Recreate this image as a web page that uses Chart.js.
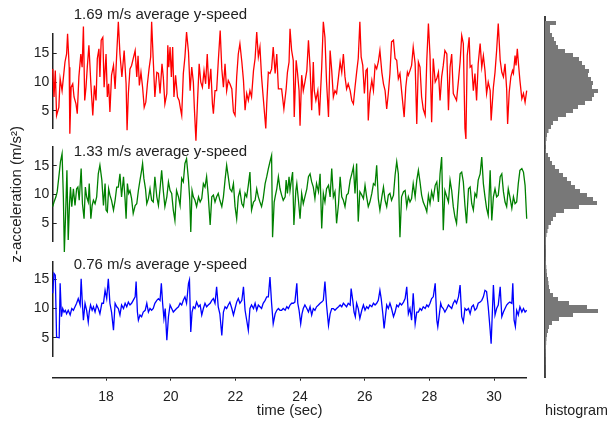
<!DOCTYPE html>
<html>
<head>
<meta charset="utf-8">
<script src="https://cdn.jsdelivr.net/npm/chart.js@4.4.1/dist/chart.umd.min.js"></script>
<style>
    html, body { margin: 0; padding: 0; background: #fff; }
    #wrap { position: relative; width: 608px; height: 424px; }
    #main { position: absolute; left: 0; top: 0; }
    #hist { position: absolute; left: 536px; top: 0; }
</style>
</head>
<body>
<div id="wrap">
    <canvas id="main" width="608" height="424"></canvas>
    <canvas id="hist" width="72" height="424"></canvas>
</div>
<script>
// [time (sec), z-acceleration (m/s^2)]
const fastRun = [
    [16.35,12.3],[16.39,7.4],[16.43,12.0],[16.47,4.2],[16.54,5.6],[16.58,10.6],[16.64,8.5],[16.73,13.5],[16.78,14.9],[16.81,18.4],
    [16.86,12.6],[16.88,1.0],[16.92,9.1],[16.97,9.7],[17.01,7.4],[17.07,6.2],[17.11,4.5],[17.16,10.9],[17.22,14.9],[17.26,12.6],
    [17.30,19.7],[17.34,6.8],[17.38,9.1],[17.42,12.6],[17.47,16.4],[17.53,9.7],[17.59,4.2],[17.64,9.4],[17.69,6.8],[17.73,14.1],
    [17.78,15.8],[17.81,10.9],[17.85,17.3],[17.90,17.8],[17.94,9.1],[18.00,14.9],[18.04,7.4],[18.08,9.7],[18.12,4.8],[18.17,11.2],
    [18.23,12.9],[18.28,8.8],[18.33,14.9],[18.38,20.5],[18.43,14.9],[18.49,10.9],[18.56,15.5],[18.62,9.7],[18.65,1.6],[18.69,8.0],
    [18.74,12.3],[18.79,12.9],[18.84,14.1],[18.90,15.5],[18.95,10.9],[18.99,14.6],[19.03,9.4],[19.08,11.7],[19.13,9.1],[19.18,5.6],
    [19.23,6.5],[19.28,9.7],[19.33,12.3],[19.38,14.4],[19.41,20.5],[19.46,13.8],[19.51,7.4],[19.57,11.7],[19.62,11.5],[19.67,8.0],
    [19.73,13.2],[19.77,10.9],[19.82,6.2],[19.88,8.0],[19.91,16.4],[19.94,12.6],[19.98,16.1],[20.02,10.9],[20.06,16.1],[20.10,7.4],
    [20.15,11.2],[20.21,7.4],[20.26,6.8],[20.31,5.1],[20.34,4.2],[20.39,11.5],[20.44,14.4],[20.49,18.7],[20.55,15.2],[20.60,8.5],
    [20.65,12.6],[20.70,10.0],[20.73,5.6],[20.78,-0.2],[20.83,6.8],[20.88,13.2],[20.93,10.0],[20.98,9.1],[21.03,12.0],[21.08,9.7],
    [21.13,14.9],[21.18,8.8],[21.24,12.3],[21.29,6.2],[21.32,4.5],[21.37,8.5],[21.42,8.5],[21.47,13.5],[21.53,19.0],[21.58,12.3],
    [21.63,9.1],[21.68,13.2],[21.73,8.5],[21.78,10.3],[21.83,9.7],[21.89,8.8],[21.94,4.8],[21.99,4.2],[22.04,10.9],[22.09,14.9],
    [22.14,16.7],[22.20,13.5],[22.25,10.3],[22.30,5.1],[22.35,8.0],[22.40,6.8],[22.45,8.5],[22.50,7.4],[22.56,12.0],[22.61,14.1],
    [22.66,18.7],[22.71,14.4],[22.76,16.1],[22.81,10.9],[22.86,7.4],[22.94,1.9],[22.97,6.2],[23.02,11.7],[23.07,11.5],[23.12,12.3],
    [23.17,16.1],[23.23,11.5],[23.28,14.9],[23.33,8.8],[23.38,8.8],
    [23.43,8.8],[23.50,5.3],[23.57,8.8],[23.61,11.7],[23.66,13.5],[23.69,19.3],[23.74,15.5],[23.79,13.8],[23.82,3.9],[23.88,13.8],
    [23.92,11.7],[23.97,8.5],[24.00,2.4],[24.05,11.2],[24.10,8.5],[24.15,10.0],[24.21,12.0],[24.26,17.3],[24.31,12.6],[24.36,5.1],
    [24.41,13.5],[24.44,8.5],[24.49,6.8],[24.55,8.5],[24.60,4.2],[24.67,12.6],[24.72,20.5],[24.77,17.8],[24.82,10.0],[24.88,3.9],
    [24.93,15.5],[24.98,12.0],[25.03,7.4],[25.08,8.5],[25.13,8.0],[25.19,10.9],[25.24,13.5],[25.29,11.7],[25.34,14.9],[25.39,10.9],
    [25.44,8.8],[25.49,9.7],[25.55,8.5],[25.60,6.8],[25.65,6.2],[25.70,9.1],[25.75,11.7],[25.80,14.1],[25.85,20.5],[25.89,14.4],
    [25.94,12.9],[25.99,8.0],[26.04,12.0],[26.08,12.3],[26.11,3.3],[26.16,8.0],[26.22,10.3],[26.27,8.5],[26.32,12.9],[26.37,12.3],
    [26.42,13.5],[26.47,15.5],[26.53,11.7],[26.58,9.7],[26.63,8.5],[26.68,5.3],[26.73,8.0],[26.78,11.5],[26.83,17.0],[26.89,17.3],
    [26.94,14.1],[26.99,13.8],[27.04,10.6],[27.09,11.5],[27.14,8.5],[27.22,3.9],[27.27,9.1],[27.32,11.7],[27.35,11.2],[27.40,12.0],
    [27.45,12.9],[27.50,16.1],[27.56,13.2],[27.61,2.7],[27.66,13.5],[27.71,12.6],[27.76,7.4],[27.81,5.3],[27.87,4.2],[27.92,13.8],
    [27.97,20.2],[28.02,14.6],[28.07,3.0],[28.12,14.1],[28.18,10.0],[28.23,10.6],[28.28,11.7],[28.33,6.8],[28.38,10.9],[28.43,12.9],
    [28.48,15.5],[28.54,14.9],[28.59,5.1],[28.64,12.6],[28.69,14.9],[28.74,8.0],[28.79,7.4],[28.84,6.8],[28.90,10.3],[28.95,13.5],
    [29.00,18.1],[29.05,16.7],[29.10,1.9],[29.13,0.1],[29.17,14.6],[29.23,17.8],[29.26,12.6],[29.31,12.9],[29.36,8.5],[29.41,11.5],
    [29.46,6.8],[29.51,13.2],[29.57,16.7],[29.62,12.6],[29.67,14.6],[29.72,12.0],[29.77,8.0],[29.82,10.0],[29.88,8.5],[29.91,3.3],
    [29.98,9.1],[30.03,11.7],[30.08,15.5],[30.13,20.2],[30.19,13.8],[30.24,11.7],[30.29,10.9],[30.34,13.2],[30.39,8.8],[30.42,2.7],
    [30.47,8.3],[30.52,10.9],[30.57,12.0],[30.60,11.5],[30.65,14.6],[30.68,12.9],[30.72,15.8],[30.76,12.9],[30.80,10.3],[30.86,7.1],
    [30.91,8.0],[30.96,6.5],[31.01,8.5]
];

const midRun = [
    [16.35,7.9],[16.39,8.7],[16.45,9.6],[16.49,10.5],[16.55,13.6],[16.59,15.7],[16.64,17.1],[16.68,9.6],[16.71,0.0],[16.75,6.7],
    [16.79,14.2],[16.83,2.1],[16.87,8.4],[16.90,11.3],[16.94,7.9],[16.99,11.0],[17.04,8.1],[17.09,11.0],[17.13,11.3],[17.17,9.0],
    [17.23,14.5],[17.27,8.4],[17.32,5.8],[17.36,11.3],[17.40,9.6],[17.45,8.7],[17.48,11.9],[17.53,5.8],[17.57,8.1],[17.61,9.0],
    [17.66,8.4],[17.71,9.6],[17.76,13.6],[17.81,15.1],[17.87,12.5],[17.92,8.1],[17.97,11.9],[18.00,7.3],[18.04,7.0],[18.08,11.0],
    [18.12,9.9],[18.17,9.0],[18.23,7.3],[18.28,9.0],[18.33,11.3],[18.38,11.3],[18.43,13.6],[18.48,9.6],[18.54,13.1],[18.59,9.0],
    [18.62,5.8],[18.66,11.9],[18.70,10.2],[18.74,10.7],[18.79,9.3],[18.84,6.7],[18.90,8.1],[18.95,8.4],[19.00,10.7],[19.05,12.5],
    [19.10,14.2],[19.13,15.4],[19.17,12.8],[19.22,11.0],[19.26,8.4],[19.31,9.3],[19.36,11.0],[19.41,9.0],[19.46,8.7],[19.51,13.1],
    [19.57,9.6],[19.62,8.1],[19.67,11.0],[19.72,14.2],[19.77,10.7],[19.82,7.9],[19.88,9.6],[19.93,12.2],[19.98,10.7],[20.03,10.2],
    [20.08,7.3],[20.13,5.5],[20.18,10.7],[20.24,9.6],[20.29,8.1],[20.34,12.8],[20.39,12.2],[20.44,15.4],[20.49,16.2],[20.55,12.5],
    [20.59,9.0],[20.62,3.5],[20.66,10.7],[20.70,9.6],[20.75,9.0],[20.80,7.9],[20.86,9.6],[20.91,8.7],[20.96,9.3],[21.01,11.9],
    [21.06,11.3],[21.11,13.1],[21.16,9.9],[21.22,4.7],[21.27,9.6],[21.32,9.9],[21.37,8.7],[21.42,9.6],[21.47,10.2],[21.52,9.0],
    [21.58,7.9],[21.63,9.6],[21.68,12.5],[21.73,15.1],[21.78,13.1],[21.83,11.0],[21.89,10.5],[21.94,11.9],[21.99,7.9],[22.04,5.8],
    [22.09,9.6],[22.14,10.7],[22.20,8.4],[22.25,7.9],[22.30,10.2],[22.35,9.6],[22.40,11.6],[22.45,13.9],[22.50,7.3],[22.56,8.7],
    [22.61,9.0],[22.66,11.0],[22.71,9.6],[22.76,8.7],[22.81,7.9],[22.86,9.3],[22.92,11.9],[22.97,13.1],[23.02,14.5],[23.07,15.7],
    [23.12,16.8],[23.15,2.6],[23.20,8.7],[23.24,9.9],[23.28,11.0],[23.33,13.1],[23.38,11.0],
    [23.43,9.9],[23.48,9.0],[23.54,9.6],[23.57,12.5],[23.61,10.2],[23.66,13.1],[23.69,10.7],[23.74,12.8],[23.77,13.9],[23.81,4.7],
    [23.87,10.7],[23.90,11.9],[23.95,9.0],[24.00,5.8],[24.05,10.2],[24.10,8.4],[24.15,9.6],[24.21,11.0],[24.26,13.1],[24.31,13.6],
    [24.36,12.2],[24.41,11.3],[24.46,9.3],[24.51,11.9],[24.57,10.5],[24.62,13.6],[24.67,4.1],[24.72,10.2],[24.77,8.7],[24.82,11.0],
    [24.88,11.6],[24.93,9.6],[24.98,14.5],[25.03,9.6],[25.08,10.5],[25.13,5.0],[25.19,8.4],[25.24,13.1],[25.29,9.6],[25.34,9.0],
    [25.39,7.9],[25.44,9.9],[25.49,10.2],[25.55,12.5],[25.60,13.6],[25.65,14.8],[25.70,10.2],[25.75,15.4],[25.80,5.3],[25.85,10.5],
    [25.91,9.9],[25.96,9.3],[26.01,11.6],[26.06,9.6],[26.11,7.9],[26.16,8.7],[26.22,10.2],[26.27,11.9],[26.32,11.6],[26.37,15.1],
    [26.42,9.3],[26.47,7.3],[26.53,9.6],[26.58,11.3],[26.63,9.0],[26.68,7.9],[26.73,9.9],[26.78,10.2],[26.83,9.0],[26.89,9.9],
    [26.94,13.4],[26.99,15.7],[27.04,13.6],[27.09,2.6],[27.14,9.6],[27.20,10.5],[27.25,10.7],[27.30,7.9],[27.35,9.6],[27.40,8.7],
    [27.45,9.3],[27.50,11.9],[27.56,9.6],[27.61,12.5],[27.66,14.2],[27.71,12.2],[27.76,9.9],[27.81,8.7],[27.87,7.9],[27.92,7.0],
    [27.97,9.9],[28.02,8.4],[28.07,10.5],[28.12,9.3],[28.18,11.6],[28.23,12.2],[28.28,8.7],[28.33,13.6],[28.38,16.5],[28.43,3.8],
    [28.48,10.7],[28.54,9.6],[28.59,8.7],[28.64,12.5],[28.69,10.7],[28.74,7.9],[28.79,6.1],[28.84,5.0],[28.90,9.9],[28.95,13.6],
    [29.00,13.9],[29.05,12.2],[29.10,8.1],[29.15,5.0],[29.21,11.0],[29.26,11.3],[29.31,8.4],[29.36,7.3],[29.41,10.2],[29.46,9.6],
    [29.51,12.5],[29.57,13.6],[29.62,16.5],[29.67,11.9],[29.72,9.6],[29.77,7.6],[29.82,6.4],[29.88,14.2],[29.93,5.5],[29.98,9.6],
    [30.03,11.0],[30.08,9.6],[30.13,9.9],[30.19,13.1],[30.24,13.6],[30.29,10.5],[30.34,8.7],[30.39,7.9],[30.44,11.0],[30.49,9.6],
    [30.55,7.6],[30.60,9.6],[30.65,8.4],[30.70,8.7],[30.75,11.9],[30.80,14.2],[30.86,14.5],[30.91,13.9],[30.96,11.6],[31.01,5.8]
];

const slowWalk = [
    [16.35,12.6],[16.39,16.0],[16.43,15.7],[16.47,5.1],[16.55,5.0],[16.58,14.3],[16.62,8.6],[16.66,10.0],[16.70,9.4],[16.74,9.7],
    [16.78,9.1],[16.83,9.7],[16.89,8.9],[16.94,10.0],[16.99,9.7],[17.04,10.3],[17.09,10.9],[17.14,11.7],[17.20,10.6],[17.23,15.1],
    [17.27,10.6],[17.30,8.0],[17.35,10.9],[17.40,9.7],[17.45,7.7],[17.48,9.4],[17.52,10.6],[17.57,9.7],[17.61,10.3],[17.66,9.4],
    [17.71,10.6],[17.76,10.0],[17.81,9.1],[17.87,10.9],[17.92,10.9],[17.97,13.1],[18.02,11.7],[18.07,15.1],[18.12,10.9],[18.17,9.4],
    [18.23,6.3],[18.28,10.9],[18.33,10.3],[18.38,10.0],[18.43,8.9],[18.48,10.6],[18.54,10.0],[18.59,10.9],[18.64,10.3],[18.69,11.1],
    [18.74,10.6],[18.79,10.9],[18.84,11.4],[18.90,12.0],[18.93,14.6],[18.97,9.4],[19.00,8.0],[19.05,8.9],[19.10,8.6],[19.15,9.4],
    [19.21,9.7],[19.26,10.9],[19.31,9.4],[19.36,10.0],[19.41,9.7],[19.46,10.0],[19.51,10.9],[19.57,11.4],[19.62,11.7],[19.67,11.4],
    [19.71,14.3],[19.75,10.9],[19.79,8.3],[19.83,10.0],[19.88,4.6],[19.93,8.6],[19.98,10.6],[20.03,10.0],[20.08,9.4],[20.13,9.7],
    [20.18,10.0],[20.24,10.3],[20.29,10.9],[20.34,10.6],[20.39,11.4],[20.44,12.0],[20.49,10.9],[20.55,14.3],[20.58,14.9],[20.62,6.0],
    [20.66,9.4],[20.70,10.3],[20.75,10.0],[20.80,11.1],[20.86,10.3],[20.91,10.6],[20.96,8.9],[21.01,10.0],[21.06,10.9],[21.11,10.3],
    [21.16,10.6],[21.22,10.9],[21.27,11.4],[21.32,11.7],[21.37,10.9],[21.42,13.7],[21.47,10.3],[21.52,9.1],[21.58,5.4],[21.63,9.4],
    [21.68,10.3],[21.73,10.0],[21.78,10.6],[21.83,11.1],[21.89,10.0],[21.94,8.9],[21.99,10.0],[22.04,11.1],[22.09,11.7],[22.14,10.9],
    [22.20,11.4],[22.25,13.7],[22.30,9.7],[22.35,8.0],[22.40,6.3],[22.45,10.0],[22.50,10.6],[22.56,10.0],[22.61,10.9],[22.66,9.7],
    [22.71,10.6],[22.76,10.3],[22.81,10.0],[22.86,10.9],[22.92,11.4],[22.97,12.0],[23.02,12.0],[23.07,15.4],[23.12,10.9],[23.17,7.4],
    [23.23,9.1],[23.28,9.7],[23.33,10.0],[23.38,9.7],
    [23.43,9.7],[23.48,10.0],[23.54,9.7],[23.59,10.3],[23.64,10.0],[23.69,10.6],[23.74,10.9],[23.79,10.9],[23.84,11.1],[23.90,14.3],
    [23.93,10.9],[23.97,9.7],[24.02,7.4],[24.06,9.1],[24.10,10.0],[24.15,10.6],[24.21,10.0],[24.26,9.4],[24.31,10.3],[24.36,8.9],
    [24.41,10.0],[24.46,9.7],[24.51,10.3],[24.57,10.6],[24.62,10.9],[24.67,11.1],[24.72,11.4],[24.77,14.6],[24.82,10.6],[24.88,7.1],
    [24.93,9.1],[24.98,10.0],[25.03,10.0],[25.08,9.7],[25.13,10.0],[25.19,10.3],[25.24,10.6],[25.29,10.3],[25.34,10.9],[25.39,10.6],
    [25.44,10.3],[25.49,10.9],[25.55,10.6],[25.58,13.4],[25.63,11.4],[25.67,9.4],[25.71,8.6],[25.75,10.9],[25.80,10.0],[25.85,8.3],
    [25.91,9.7],[25.96,10.6],[26.01,9.7],[26.06,10.3],[26.11,10.0],[26.16,10.6],[26.22,10.3],[26.27,10.9],[26.32,10.6],[26.37,10.9],
    [26.42,11.4],[26.47,13.1],[26.51,11.7],[26.56,9.1],[26.60,6.6],[26.64,8.6],[26.68,10.6],[26.73,10.0],[26.78,10.9],[26.83,10.0],
    [26.89,8.6],[26.94,9.4],[26.99,10.6],[27.04,10.3],[27.09,10.9],[27.14,10.6],[27.20,11.1],[27.25,11.7],[27.30,13.7],[27.35,9.1],
    [27.40,10.0],[27.45,8.0],[27.50,12.6],[27.56,7.4],[27.61,9.4],[27.66,9.4],[27.71,10.0],[27.76,9.7],[27.81,10.3],[27.87,10.0],
    [27.92,10.6],[27.97,10.3],[28.02,10.9],[28.07,11.7],[28.12,12.0],[28.18,14.3],[28.23,8.0],[28.26,6.9],[28.31,9.1],[28.35,10.9],
    [28.38,10.3],[28.43,10.0],[28.48,9.4],[28.54,10.0],[28.59,10.6],[28.64,10.3],[28.69,10.0],[28.74,10.9],[28.79,11.4],[28.84,10.9],
    [28.90,12.0],[28.95,14.0],[29.00,8.6],[29.05,7.7],[29.10,10.0],[29.15,9.7],[29.21,10.0],[29.26,9.1],[29.31,10.3],[29.36,10.6],
    [29.41,9.7],[29.46,10.0],[29.51,10.9],[29.57,11.1],[29.62,11.4],[29.67,12.0],[29.72,13.1],[29.77,12.9],[29.82,10.3],[29.88,6.3],
    [29.91,4.0],[29.95,9.7],[29.98,14.0],[30.03,8.9],[30.08,10.0],[30.13,10.6],[30.19,13.7],[30.24,8.6],[30.29,9.4],[30.34,10.0],
    [30.39,10.6],[30.44,10.9],[30.49,11.1],[30.55,10.9],[30.58,14.3],[30.62,8.0],[30.66,6.9],[30.70,9.7],[30.75,8.9],[30.80,10.3],
    [30.86,9.4],[30.91,10.0],[30.96,9.4],[31.01,9.7]
];

// histogram counts, top bin first (same vertical layout as the three panels)
const histCounts = [
    0, 11, 5, 5, 7, 9, 11, 13, 20, 28,
    34, 37, 40, 44, 43, 46, 48, 47, 53, 49,
    47, 40, 33, 28, 21, 13, 8, 6, 3.5, 2,
    1.5, 1, 0.7, 1, 3, 5, 7, 10, 14, 18,
    22, 26, 30, 35, 42, 48, 52, 34, 19, 11,
    8, 6, 3.5, 2.5, 1.5, 1, 1, 0.8, 0.7, 0.7,
    0.8, 1, 1.3, 1.7, 2, 3, 3.5, 4, 5, 8,
    13, 24, 42, 53, 28, 14, 7, 4, 3, 2,
    1.5, 1.2, 1, 0.8, 0.7, 0.5, 0.5, 0.3, 0.3, 0.2
];

const timeTicks = [18, 20, 22, 24, 26, 28, 30];
const panelTicks = [5, 10, 15];
const panelTitles = ['1.69 m/s average y-speed', '1.33 m/s average y-speed', '0.76 m/s average y-speed'];
const titleLevels = [21.7, 17.4, 17.4];
const titleTime = 17.0;

const FONT = '"Liberation Sans", Arial, Helvetica, sans-serif';
const INK = '#222222';
const HIST_GREY = '#787878';
const AXIS_W = 52.7;
const BOTTOM_H = 46.3;

Chart.defaults.font.family = FONT;
Chart.defaults.color = INK;

const tickFont = { family: FONT, size: 14 };
const labelFont = { family: FONT, size: 15 };

function panelAxis(range, weight, stackWeight, title) {
    return {
        type: 'linear',
        position: 'left',
        stack: 'panels',
        stackWeight: stackWeight,
        weight: weight,
        min: range[0],
        max: range[1],
        afterBuildTicks: s => { s.ticks = panelTicks.map(v => ({ value: v })); },
        afterFit: s => { s.width = AXIS_W; },
        border: { display: true, color: INK, width: 1.5 },
        grid: { drawOnChartArea: false, drawTicks: true, tickLength: -4, color: INK, lineWidth: 1 },
        ticks: { font: tickFont, color: INK, padding: 7.5 },
        title: title
            ? { display: true, text: title, font: labelFont, color: INK, padding: { top: 8, bottom: 0 } }
            : { display: false }
    };
}

function gapAxis(weight, stackWeight) {
    return {
        type: 'linear',
        position: 'left',
        stack: 'panels',
        stackWeight: stackWeight,
        weight: weight,
        afterFit: s => { s.width = AXIS_W; },
        border: { display: false },
        grid: { display: false },
        ticks: { display: false }
    };
}

function lineSet(points, axisId, color) {
    return {
        type: 'line',
        data: points.map(([t, v]) => ({ x: t, y: v })),
        yAxisID: axisId,
        xAxisID: 'x',
        borderColor: color,
        borderWidth: 1.3,
        pointRadius: 0,
        tension: 0,
        clip: false
    };
}

const panelTitlePlugin = {
    id: 'panelTitles',
    afterDatasetsDraw(chart) {
        const ctx = chart.ctx;
        const xs = chart.scales.x;
        const ids = ['yR', 'yG', 'yB'];
        ctx.save();
        ctx.font = '15px ' + FONT;
        ctx.fillStyle = INK;
        ctx.textAlign = 'left';
        ctx.textBaseline = 'middle';
        ids.forEach((id, i) => {
            const ys = chart.scales[id];
            ctx.fillText(panelTitles[i], xs.getPixelForValue(titleTime), ys.getPixelForValue(titleLevels[i]));
        });
        ctx.restore();
    }
};

new Chart(document.getElementById('main'), {
    type: 'line',
    data: {
        datasets: [
            lineSet(fastRun, 'yR', '#ff0000'),
            lineSet(midRun, 'yG', '#008000'),
            lineSet(slowWalk, 'yB', '#0000ff')
        ]
    },
    options: {
        responsive: false,
        animation: false,
        events: [],
        layout: { padding: { left: 0, right: 81.3, top: 33.3, bottom: 0 } },
        plugins: { legend: { display: false }, tooltip: { enabled: false } },
        scales: {
            x: {
                type: 'linear',
                position: 'bottom',
                min: 16.35,
                max: 31.01,
                afterBuildTicks: s => { s.ticks = timeTicks.map(v => ({ value: v })); },
                afterFit: s => { s.height = BOTTOM_H; },
                border: { display: true, color: INK, width: 1.5 },
                grid: { drawOnChartArea: false, drawTicks: true, tickLength: 3, color: INK, lineWidth: 1 },
                ticks: { font: tickFont, color: INK, padding: 8, maxRotation: 0 },
                title: { display: true, text: 'time (sec)', font: labelFont, color: INK, padding: { top: 0, bottom: 4 } }
            },
            // stacked top to bottom by weight
            gapB: gapAxis(1, 21.5),
            yB: panelAxis([1.85, 18.0], 2, 94.5),
            gapBG: gapAxis(3, 20),
            yG: panelAxis([1.8, 18.3], 4, 95, 'z-acceleration (m/s²)'),
            gapGR: gapAxis(5, 18.5),
            yR: panelAxis([1.95, 18.5], 6, 95)
        }
    },
    plugins: [panelTitlePlugin]
});

// histogram as one stepped, filled outline: one point per bin edge (bin 0 at the top)
const histOutline = histCounts.map((c, k) => ({ x: c, y: k }));
histOutline.push({ x: histCounts[histCounts.length - 1], y: histCounts.length });

new Chart(document.getElementById('hist'), {
    type: 'line',
    data: {
        datasets: [{
            data: histOutline,
            stepped: 'after',
            fill: 'origin',
            backgroundColor: HIST_GREY,
            borderColor: 'rgba(0,0,0,0)',
            borderWidth: 1,
            pointRadius: 0
        }]
    },
    options: {
        indexAxis: 'y',
        responsive: false,
        animation: false,
        events: [],
        layout: { padding: { left: 9, right: 0, top: 17, bottom: 0 } },
        plugins: { legend: { display: false }, tooltip: { enabled: false } },
        scales: {
            y: {
                type: 'linear',
                min: 0,
                max: histCounts.length,
                reverse: true,
                afterFit: s => { s.width = 0; },
                border: { display: true, color: '#404040', width: 2 },
                grid: { display: false },
                ticks: { display: false }
            },
            x: {
                type: 'linear',
                min: 0,
                max: 63,
                afterFit: s => { s.height = 47; },
                border: { display: false },
                grid: { display: false },
                ticks: { display: false },
                title: { display: true, text: 'histogram', font: labelFont, color: INK, padding: { top: 0, bottom: 4 } }
            }
        }
    }
});
</script>
</body>
</html>
